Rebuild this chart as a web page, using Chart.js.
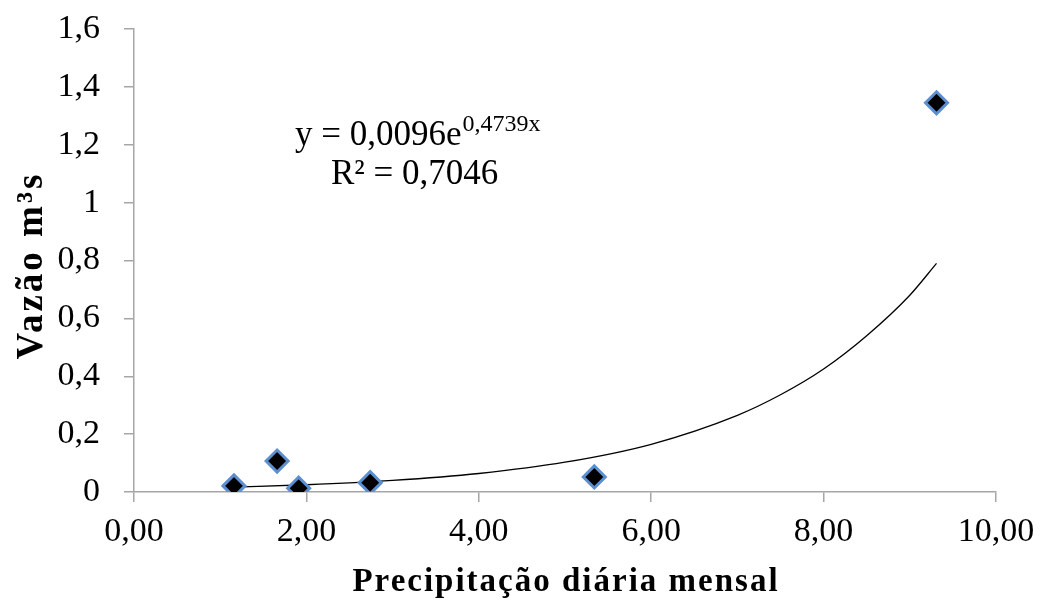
<!DOCTYPE html>
<html>
<head>
<meta charset="utf-8">
<script src="https://cdn.jsdelivr.net/npm/chart.js@4/dist/chart.umd.min.js"></script>
<style>
  html, body { margin: 0; padding: 0; background: #fff; }
  #wrap { width: 1042px; height: 601px; }
</style>
</head>
<body>
<div id="wrap"><canvas id="chart" width="1042" height="601"></canvas></div>
<script>
const precip = [1.16, 1.66, 1.91, 2.74, 5.34, 9.31];
const vazao = [0.021, 0.107, 0.013, 0.032, 0.052, 1.345];

// exponential trend line, sampled off the drawn curve
const trendX = [1.16, 2, 3, 4, 5, 6, 7, 7.5, 8, 8.5, 9, 9.31];
const trendY = [0.017, 0.025, 0.04, 0.064, 0.103, 0.165, 0.265, 0.336, 0.425, 0.54, 0.68, 0.79];

const xTickLabels = ["0,00", "2,00", "4,00", "6,00", "8,00", "10,00"];
const yTickLabels = ["0", "0,2", "0,4", "0,6", "0,8", "1", "1,2", "1,4", "1,6"];

const xTitle = "Precipitação diária mensal";
const yTitle = "Vazão m³s";
const eqMain = "y = 0,0096e";
const eqExp = "0,4739x";
const eqR2 = "R² = 0,7046";

const serif = '"Liberation Serif", "Times New Roman", serif';
const axisGray = "#a6a6a6";

const textPlugin = {
  id: "textPlugin",
  afterDraw(chart) {
    const ctx = chart.ctx;
    const a = chart.chartArea;
    ctx.save();
    ctx.fillStyle = "#000";

    // x axis title
    ctx.font = "bold 33px " + serif;
    ctx.letterSpacing = "2px";
    ctx.textAlign = "center";
    ctx.textBaseline = "alphabetic";
    ctx.fillText(xTitle, (a.left + a.right) / 2 + 1, 591);

    // y axis title
    ctx.save();
    ctx.translate(42, (a.top + a.bottom) / 2 + 5);
    ctx.rotate(-Math.PI / 2);
    ctx.font = "bold 37px " + serif;
    ctx.letterSpacing = "3px";
    ctx.fillText(yTitle, 0, 0);
    ctx.restore();

    // equation
    ctx.letterSpacing = "0px";
    ctx.textAlign = "left";
    ctx.font = "35px " + serif;
    ctx.fillText(eqMain, 295, 145);
    const w = ctx.measureText(eqMain).width;
    ctx.font = "24px " + serif;
    ctx.fillText(eqExp, 295 + w + 1, 131);
    ctx.font = "35px " + serif;
    ctx.fillText(eqR2, 331, 184);
    ctx.restore();
  }
};

new Chart(document.getElementById("chart"), {
  type: "scatter",
  data: {
    datasets: [
      {
        label: "Tendência",
        data: trendX.map((x, i) => ({ x: x, y: trendY[i] })),
        showLine: true,
        borderColor: "#000",
        borderWidth: 1.3,
        pointRadius: 0,
        cubicInterpolationMode: "monotone",
        order: 2
      },
      {
        label: "Vazão",
        data: precip.map((x, i) => ({ x: x, y: vazao[i] })),
        pointStyle: "rectRot",
        pointRadius: 11,
        backgroundColor: "#000",
        borderColor: "#5b8fd0",
        borderWidth: 3,
        order: 1
      }
    ]
  },
  options: {
    responsive: false,
    animation: false,
    devicePixelRatio: 1,
    layout: { padding: { top: 29, right: 46, left: 0, bottom: 0 } },
    plugins: {
      legend: { display: false },
      tooltip: { enabled: false }
    },
    scales: {
      x: {
        type: "linear",
        min: 0,
        max: 10,
        afterFit: (s) => { s.height = 109; s.paddingLeft = 0; s.paddingRight = 0; },
        border: { color: axisGray, width: 1.5 },
        grid: { drawOnChartArea: false, tickLength: 10, color: axisGray, lineWidth: 1.5 },
        ticks: {
          stepSize: 2,
          color: "#000",
          padding: 10,
          font: { family: serif, size: 34 },
          callback: (v, i) => xTickLabels[i]
        }
      },
      y: {
        min: 0,
        max: 1.6,
        afterFit: (s) => { s.width = 134; s.paddingTop = 0; s.paddingBottom = 0; },
        border: { color: axisGray, width: 1.5 },
        grid: { drawOnChartArea: false, tickLength: 10, color: axisGray, lineWidth: 1.5 },
        ticks: {
          stepSize: 0.2,
          color: "#000",
          padding: 24,
          font: { family: serif, size: 34 },
          callback: (v, i) => yTickLabels[i]
        }
      }
    }
  },
  plugins: [textPlugin]
});
</script>
</body>
</html>
